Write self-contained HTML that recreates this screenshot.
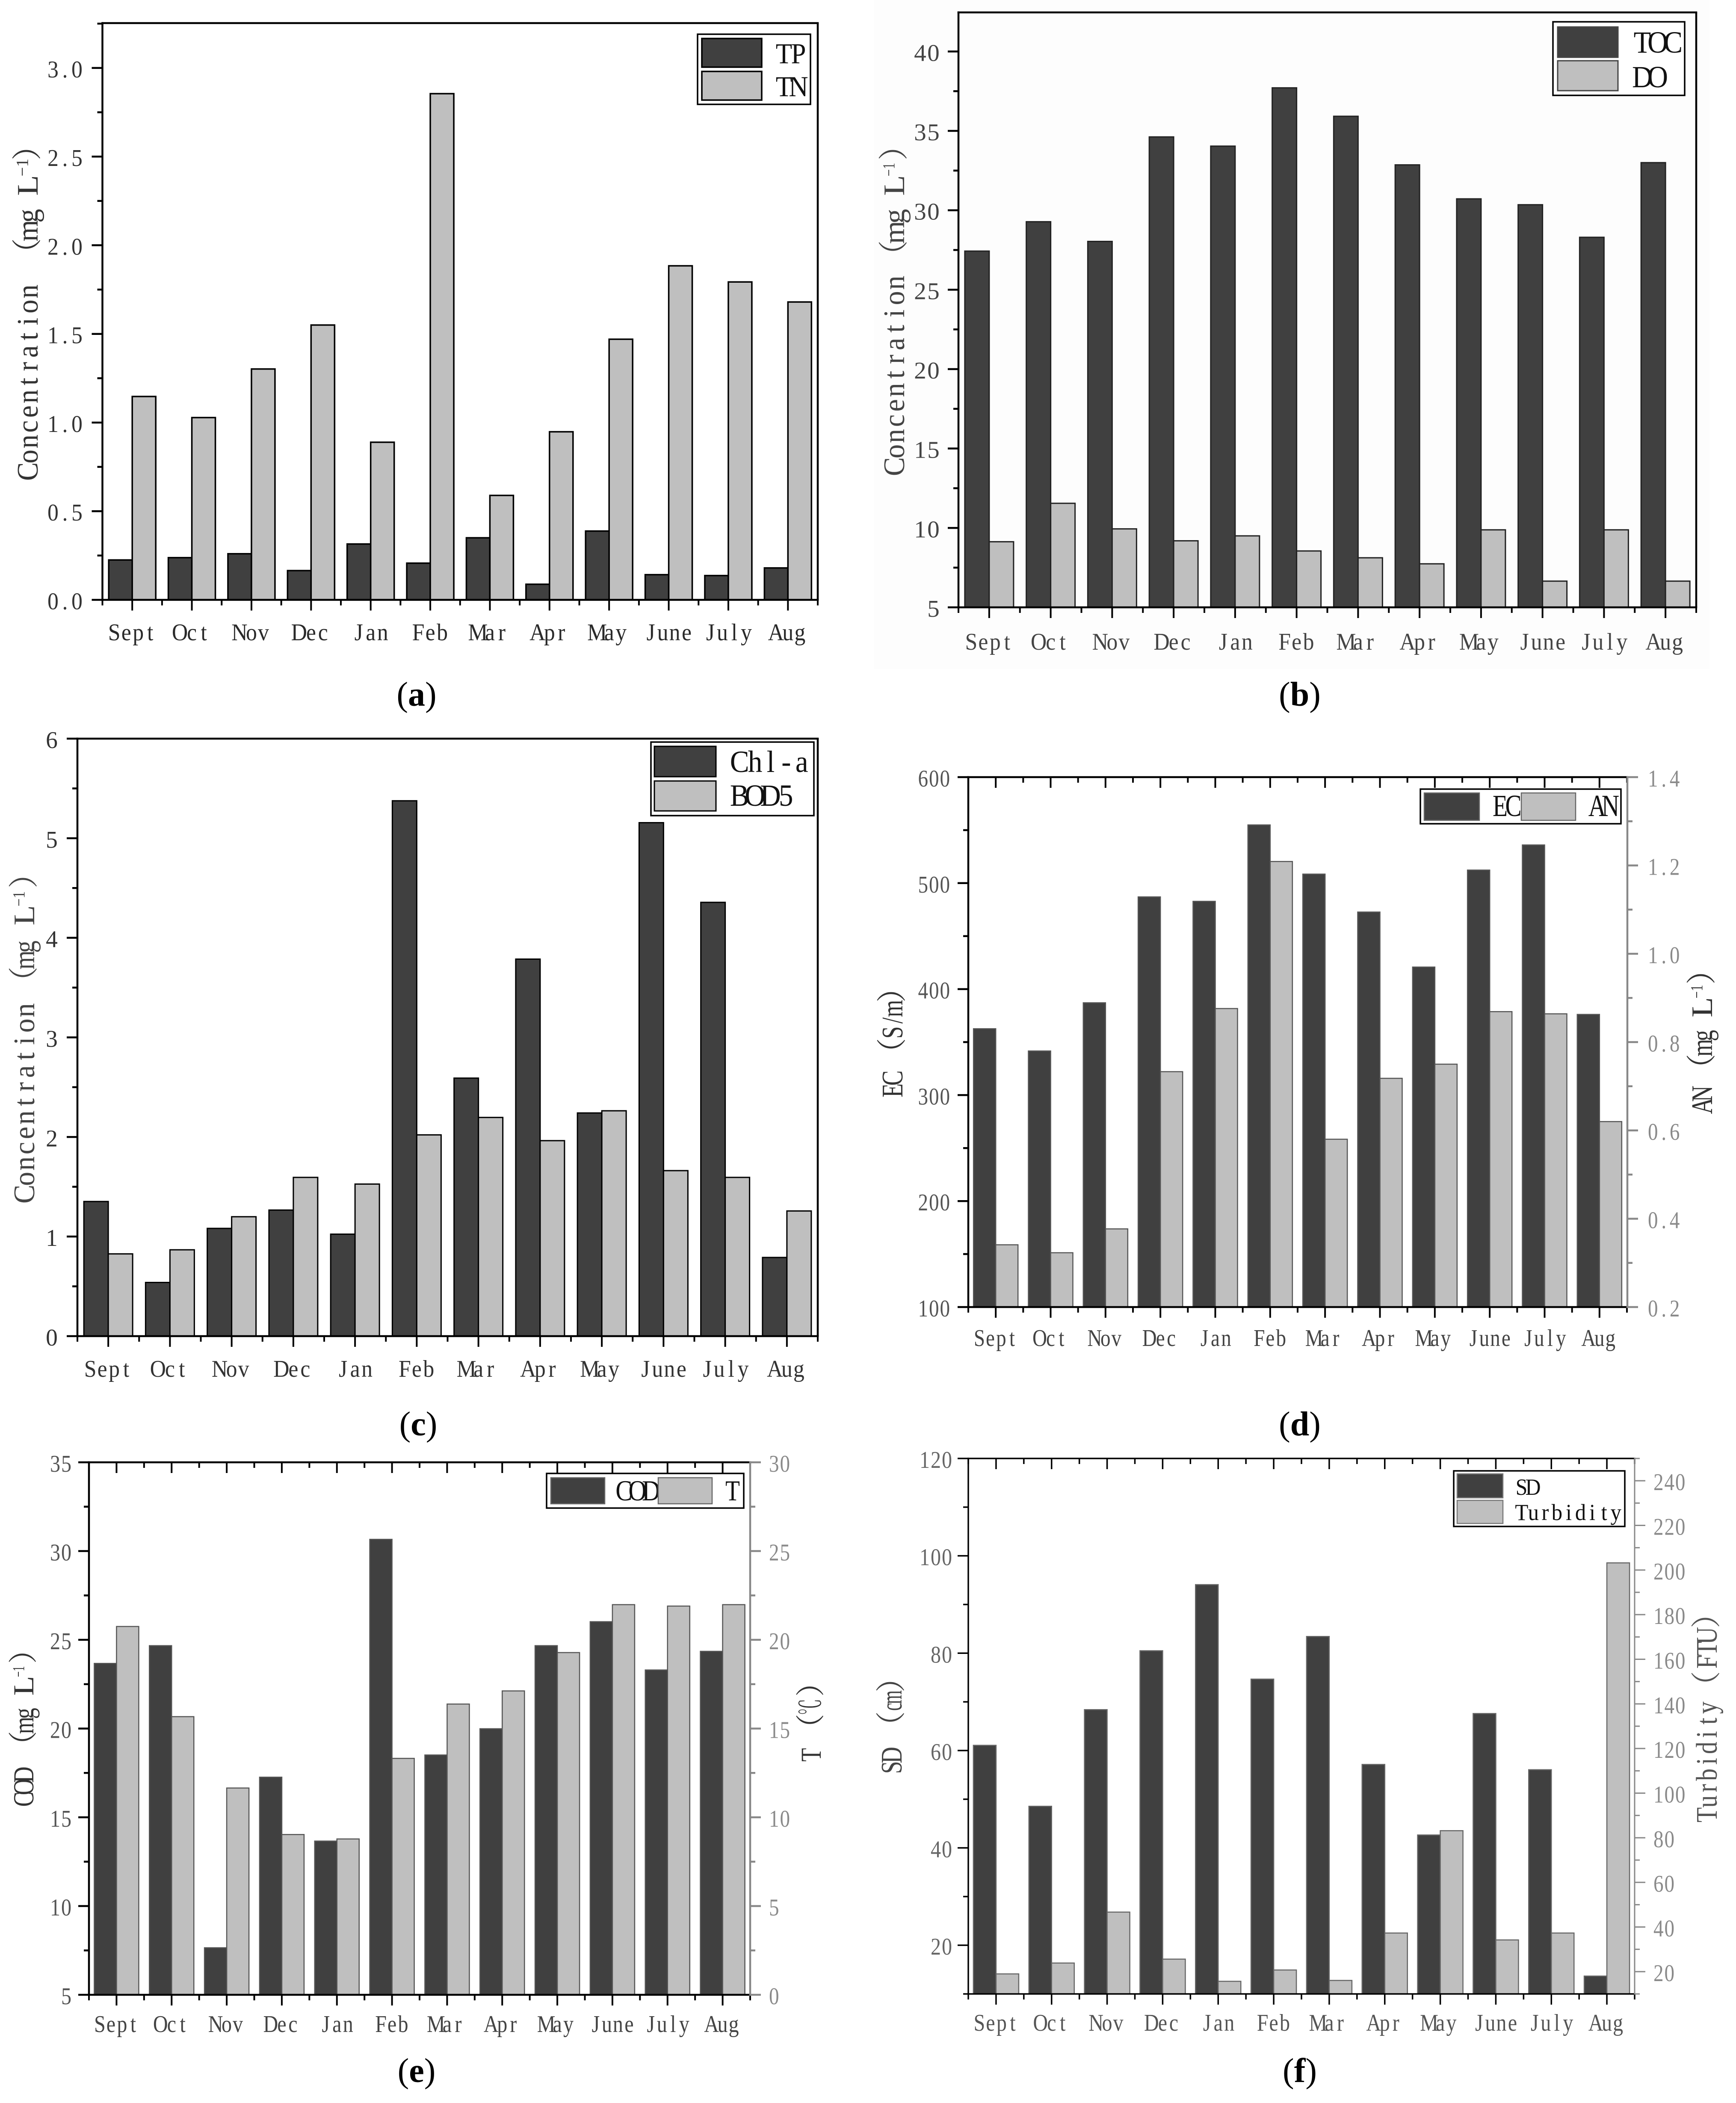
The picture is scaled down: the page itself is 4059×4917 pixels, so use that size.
<!DOCTYPE html>
<html lang="en">
<head>
<meta charset="utf-8">
<title>Monthly water quality parameters</title>
<style>
  html, body { margin: 0; padding: 0; background: #ffffff; }
  svg { display: block; font-family: "Liberation Serif", "Noto Serif CJK SC", serif; }
</style>
</head>
<body>
<svg id="figure" xmlns="http://www.w3.org/2000/svg" width="4059" height="4917" viewBox="0 0 4059 4917">
  <rect x="0" y="0" width="4059" height="4917" fill="#ffffff"></rect>
  <rect x="2043" y="0" width="1954" height="1564" fill="#fdfdfd"></rect>
</svg>
<script>
// ---- categories ----
const months = ['Sept','Oct','Nov','Dec','Jan','Feb','Mar','Apr','May','June','July','Aug'];

// ---- series values ----
const tpValues = [0.225,0.238,0.26,0.165,0.315,0.207,0.35,0.088,0.388,0.142,0.137,0.18];
const tnValues = [1.147,1.028,1.302,1.55,0.889,2.855,0.589,0.948,1.47,1.884,1.793,1.68];
const tocValues = [27.43,29.28,28.04,34.62,34.04,37.71,35.92,32.86,30.72,30.35,28.3,33.0];
const doValues = [9.13,11.55,9.94,9.19,9.5,8.55,8.12,7.74,9.88,6.65,9.88,6.65];
const chlaValues = [1.352,0.539,1.082,1.266,1.024,5.376,2.591,3.786,2.241,5.156,4.356,0.79];
const bod5Values = [0.826,0.867,1.199,1.594,1.527,2.021,2.196,1.963,2.263,1.662,1.594,1.257];
const ecValues = [362.6,341.6,387.1,487,482.8,554.9,508.5,472.7,420.8,512.3,536,376.1];
const anValues = [0.341,0.323,0.377,0.733,0.876,1.209,0.58,0.718,0.75,0.869,0.864,0.62];
const codValues = [23.67,24.67,7.65,17.26,13.66,30.66,18.51,19.99,24.67,26.02,23.3,24.35];
const tempValues = [20.75,15.67,11.65,9.03,8.78,13.32,16.38,17.12,19.28,21.98,21.9,21.98];
const sdValues = [61.07,48.55,68.4,80.5,94.08,74.67,83.43,57.14,42.65,67.6,56.06,13.67];
const turbidityValues = [18.98,23.85,46.68,25.6,15.66,20.73,16.05,37.3,83.17,34.2,37.3,203.2];

// ---- tick labels ----
const aTicks = ['0.0','0.5','1.0','1.5','2.0','2.5','3.0'];
const bTicks = ['5','10','15','20','25','30','35','40'];
const cTicks = ['0','1','2','3','4','5','6'];
const dLeftTicks = ['100','200','300','400','500','600'];
const dRightTicks = ['0.2','0.4','0.6','0.8','1.0','1.2','1.4'];
const eLeftTicks = ['5','10','15','20','25','30','35'];
const eRightTicks = ['0','5','10','15','20','25','30'];
const fLeftTicks = ['20','40','60','80','100','120'];
const fRightTicks = ['20','40','60','80','100','120','140','160','180','200','220','240'];

// ---- axis ranges ----
const aRange = [0, 3.253];
const bRange = [5, 42.46];
const cRange = [0, 6];
const dLeftRange = [100, 600];
const dRightRange = [0.2, 1.4];
const eLeftRange = [5, 35];
const eRightRange = [0, 30];
const fLeftRange = [10, 120];
const fRightRange = [10, 250];

// ---- styling ----
const DARK = '#404040';
const LIGHT = '#bfbfbf';
const svg = document.getElementById('figure');
const NS = 'http://www.w3.org/2000/svg';

function addGroup(parent, name) {
  const el = document.createElementNS(NS, 'g');
  
  
  parent.appendChild(el);
  return el;
}
function addLine(parent, name, x1, y1, x2, y2, color, width) {
  const el = document.createElementNS(NS, 'line');
  
  
  el.setAttribute('x1', x1); el.setAttribute('y1', y1);
  el.setAttribute('x2', x2); el.setAttribute('y2', y2);
  el.setAttribute('stroke', color); el.setAttribute('stroke-width', width);
  parent.appendChild(el);
  return el;
}
function addRect(parent, name, x, y, w, h, fill, stroke, sw) {
  const el = document.createElementNS(NS, 'rect');
  
  
  el.setAttribute('x', x); el.setAttribute('y', y);
  el.setAttribute('width', w); el.setAttribute('height', h);
  el.setAttribute('fill', fill); el.setAttribute('stroke', stroke); el.setAttribute('stroke-width', sw);
  parent.appendChild(el);
  return el;
}
// Text is drawn as a fixed-pitch run: when len is given, every character sits
// centred in a cell of len/n and glyphs are condensed to suit the cell.
function addText(parent, name, str, x, y, fs, fill, anchor, len, rotate) {
  const el = document.createElementNS(NS, 'text');
  
  
  el.setAttribute('font-size', fs);
  el.setAttribute('fill', fill);
  const place = rotate ? 'translate(' + x + ' ' + y + ') rotate(-90)' : 'translate(' + x + ' ' + y + ')';
  if (len) {
    const chars = Array.from(str);
    const cw = len / chars.length;
    const sx = /[\u2100-\u214f]/.test(str) ? cw / fs : 1.85 * cw / fs;
    const origin = anchor === 'end' ? -len : anchor === 'middle' ? -len / 2 : 0;
    const xs = chars.map((c, i) => ((origin + (i + 0.5) * cw) / sx).toFixed(2));
    el.setAttribute('text-anchor', 'middle');
    el.setAttribute('x', xs.join(' '));
    el.setAttribute('y', 0);
    el.setAttribute('transform', place + ' scale(' + sx.toFixed(3) + ' 1)');
  } else {
    el.setAttribute('text-anchor', anchor);
    el.setAttribute('x', 0);
    el.setAttribute('y', 0);
    el.setAttribute('transform', place);
  }
  el.textContent = str;
  parent.appendChild(el);
  return el;
}
function linear(range, bottomPx, topPx) {
  return v => bottomPx + (v - range[0]) / (range[1] - range[0]) * (topPx - bottomPx);
}
function drawYAxis(g, name, p, side) {
  const scale = linear(side.range, p.b, p.t);
  const vals = side.ticks.map(Number);
  const step = (vals[1] - vals[0]) / 2;
  const dir = side.dir;
  const ax = side.axisX;
  addLine(g, name + '-line', ax, p.t - side.width / 2, ax, p.b + side.width / 2, side.color, side.width);
  const startIdx = Math.ceil((side.range[0] - vals[0]) / step - 1e-6);
  const endIdx = Math.floor((side.range[1] - vals[0]) / step + 1e-6);
  for (let k = startIdx; k <= endIdx; k++) {
    const v = vals[0] + k * step;
    const y = scale(v);
    const major = k % 2 === 0;
    const len = major ? side.majorLen : side.majorLen * 0.48;
    addLine(g, name + (major ? '-major-tick' : '-minor-tick'), ax, y, ax + dir * len, y, side.color, side.tickWidth);
  }
  side.ticks.forEach((label, i) => {
    const y = scale(vals[i]);
    addText(g, name + '-tick-label', label, side.labelX, y + side.labelDy, side.fs, side.labelColor,
      dir < 0 ? 'end' : 'start', label.length * side.cw, false);
  });
}
function drawTitle(g, name, t) {
  t.parts.forEach(part => {
    const str = part[0], start = part[1], end = part[2], sup = part[3];
    const fs = sup ? t.fs * 0.58 : t.fs;
    const x = sup ? t.x - t.fs * 0.32 : t.x;
    addText(g, name + '-part', str, x, start, fs, t.fill, 'start', end ? start - end : 0, true);
  });
}
function drawPanel(p) {
  const g = addGroup(svg, 'panel-' + p.id);
  const catW = (p.r - p.l) / months.length;
  const cx = i => p.l + catW * (i + 0.5);
  const scales = p.series.map(s => linear(s.range, p.b, p.t));

  // bars
  p.series.forEach((s, si) => {
    const sg = addGroup(g, s.name + '-series');
    s.values.forEach((v, i) => {
      const y = scales[si](v);
      const x = si === 0 ? cx(i) - p.barW : cx(i);
      addRect(sg, 'bar-' + s.name + '-' + months[i].toLowerCase(), x, y, p.barW, p.b - y, s.fill, p.barStroke, p.barStrokeW);
    });
  });

  // frame
  addLine(g, 'top-axis-line', p.l - p.axisW / 2, p.t, p.r + p.axisW / 2, p.t, '#000', p.axisW);
  addLine(g, 'x-axis-line', p.l - p.axisW / 2, p.b, p.r + p.axisW / 2, p.b, '#000', p.axisW);
  if (!p.right) addLine(g, 'right-frame-line', p.r, p.t, p.r, p.b, '#000', p.axisW);

  // x ticks and labels
  for (let k = 0; k <= months.length; k++) {
    const x = p.l + catW * k;
    addLine(g, 'x-minor-tick', x, p.b, x, p.b + 13, '#000', p.tickW);
    if (p.topTicks) addLine(g, 'top-minor-tick', x, p.t, x, p.t + 13, '#000', p.tickW);
  }
  months.forEach((m, i) => {
    addLine(g, 'x-major-tick', cx(i), p.b, cx(i), p.b + 25, '#000', p.tickW);
    if (p.topTicks) addLine(g, 'top-major-tick', cx(i), p.t, cx(i), p.t + 25, '#000', p.tickW);
    addText(g, 'x-tick-label-' + m.toLowerCase(), m, cx(i), p.xLabelY, p.xFs, p.xColor, 'middle', m.length * p.xCw, false);
  });

  // y axes
  drawYAxis(g, 'left-y-axis', p, p.left);
  if (p.right) drawYAxis(g, 'right-y-axis', p, p.right);
  drawTitle(g, 'left-y-axis-title', p.leftTitle);
  if (p.rightTitle) drawTitle(g, 'right-y-axis-title', p.rightTitle);

  // legend
  const lg = addGroup(g, 'legend');
  addRect(lg, 'legend-box', p.legend.x, p.legend.y, p.legend.w, p.legend.h, '#fff', '#000', 3.5);
  p.legend.entries.forEach((e, i) => {
    addText(lg, 'legend-label-' + p.series[i].name, p.series[i].label, e.tx, e.ty, p.legend.fs, '#111', 'start', e.tlen, false);
  });
  p.legend.entries.forEach((e, i) => {
    addRect(lg, 'legend-swatch-' + p.series[i].name, e.x, e.y, e.w, e.h, p.series[i].fill, p.legend.swatchStroke, p.legend.swatchW);
  });

  // caption
  const cap = addText(g, 'panel-caption', '(', p.caption[0], p.caption[1], 80, '#000', 'middle', 0, false);
  const letter = document.createElementNS(NS, 'tspan');
  
  
  letter.setAttribute('font-weight', 'bold');
  letter.textContent = p.id;
  cap.appendChild(letter);
  cap.appendChild(document.createTextNode(')'));
}

const leftSide = (ticks, range, axisX, labelX, fs, cw, color, width) => ({
  ticks, range, axisX, labelX, fs, cw, dir: -1, color: '#000', labelColor: color,
  width, tickWidth: width, majorLen: 25, labelDy: 22
});
const rightSide = (ticks, range, axisX, labelX, width) => ({
  ticks, range, axisX, labelX, fs: 56, cw: 25.5, dir: 1, color: '#888', labelColor: '#8a8a8a',
  width, tickWidth: width, majorLen: 25, labelDy: 22
});

drawPanel({
  id: 'a', l: 239.5, r: 1912, t: 54, b: 1402.5, barW: 55, barStroke: '#000', barStrokeW: 3.5,
  axisW: 4.5, tickW: 4, xLabelY: 1497, xFs: 56, xCw: 28, xColor: '#2a2a2a',
  series: [
    { name: 'tp', label: 'TP', values: tpValues, range: aRange, fill: DARK },
    { name: 'tn', label: 'TN', values: tnValues, range: aRange, fill: LIGHT }
  ],
  left: leftSide(aTicks, aRange, 239.5, 194, 56, 28, '#333', 4.5),
  leftTitle: { x: 88, fs: 70, fill: '#333', parts: [['Concentration',1120,664],['（',627],['mg',557,487],['L',455,412],['−1',412,370,true],['）',375]] },
  legend: { x: 1631, y: 80, w: 264, h: 164, fs: 68, swatchStroke: '#000', swatchW: 3.5, entries: [
    { x: 1641, y: 90, w: 140, h: 67, tx: 1816, ty: 148, tlen: 68 },
    { x: 1641, y: 167, w: 140, h: 67, tx: 1816, ty: 225, tlen: 68 }
  ] },
  caption: [974, 1650]
});

drawPanel({
  id: 'b', l: 2241, r: 3966, t: 29, b: 1420, barW: 57, barStroke: '#222', barStrokeW: 3,
  axisW: 4.5, tickW: 4, xLabelY: 1519, xFs: 56, xCw: 28, xColor: '#444',
  series: [
    { name: 'toc', label: 'TOC', values: tocValues, range: bRange, fill: DARK },
    { name: 'do', label: 'DO', values: doValues, range: bRange, fill: LIGHT }
  ],
  left: leftSide(bTicks, bRange, 2241, 2198, 56, 31, '#444', 4.5),
  leftTitle: { x: 2114, fs: 70, fill: '#444', parts: [['Concentration',1109,643],['（',632],['mg',562,487],['L',455,412],['−1',412,380,true],['）',375]] },
  legend: { x: 3631, y: 51, w: 308, h: 172, fs: 72, swatchStroke: '#444', swatchW: 3, entries: [
    { x: 3642, y: 63, w: 141, h: 71, tx: 3822, ty: 123, tlen: 108 },
    { x: 3642, y: 142, w: 141, h: 70, tx: 3822, ty: 204, tlen: 72 }
  ] },
  caption: [3039, 1650]
});

drawPanel({
  id: 'c', l: 181, r: 1912, t: 1727, b: 3124, barW: 57, barStroke: '#000', barStrokeW: 3,
  axisW: 4.5, tickW: 4, xLabelY: 3219, xFs: 56, xCw: 28, xColor: '#333',
  series: [
    { name: 'chl-a', label: 'Chl-a', values: chlaValues, range: cRange, fill: DARK },
    { name: 'bod5', label: 'BOD5', values: bod5Values, range: cRange, fill: LIGHT }
  ],
  left: leftSide(cTicks, cRange, 181, 136, 56, 30, '#333', 4.5),
  leftTitle: { x: 80, fs: 70, fill: '#444', parts: [['Concentration',2810,2344],['（',2330],['mg',2260,2198],['L',2161,2119],['−1',2119,2083,true],['）',2077]] },
  legend: { x: 1522, y: 1735, w: 381, h: 172, fs: 72, swatchStroke: '#000', swatchW: 3, entries: [
    { x: 1530, y: 1745, w: 144, h: 71, tx: 1711, ty: 1805, tlen: 182 },
    { x: 1530, y: 1826, w: 144, h: 70, tx: 1711, ty: 1884, tlen: 145 }
  ] },
  caption: [978, 3356]
});

drawPanel({
  id: 'd', l: 2264, r: 3804, t: 1817, b: 3056, barW: 52, barStroke: '#555', barStrokeW: 2.5,
  axisW: 4.5, tickW: 4, xLabelY: 3147, xFs: 56, xCw: 25.5, xColor: '#444', topTicks: true,
  series: [
    { name: 'ec', label: 'EC', values: ecValues, range: dLeftRange, fill: DARK },
    { name: 'an', label: 'AN', values: anValues, range: dRightRange, fill: LIGHT }
  ],
  left: leftSide(dLeftTicks, dLeftRange, 2264, 2222, 56, 25.5, '#555', 4.5),
  right: rightSide(dRightTicks, dRightRange, 3805, 3852, 4.5),
  leftTitle: { x: 2110, fs: 70, fill: '#333', parts: [['EC',2564,2506],['（',2497],['S/m',2428,2344],['）',2344]] },
  rightTitle: { x: 4003, fs: 70, fill: '#333', parts: [['AN',2600,2543],['（',2534],['mg',2464,2407],['L',2376,2334],['−1',2334,2302,true],['）',2302]] },
  legend: { x: 3321, y: 1845, w: 469, h: 81, fs: 72, swatchStroke: '#666', swatchW: 2.5, entries: [
    { x: 3330, y: 1854, w: 129, h: 64, tx: 3492, ty: 1908, tlen: 62 },
    { x: 3557, y: 1854, w: 127, h: 64, tx: 3719, ty: 1908, tlen: 62 }
  ] },
  caption: [3039, 3356]
});

drawPanel({
  id: 'e', l: 208, r: 1754, t: 3419, b: 4664, barW: 52, barStroke: '#555', barStrokeW: 2.5,
  axisW: 4.5, tickW: 4, xLabelY: 4751, xFs: 56, xCw: 26, xColor: '#444', topTicks: true,
  series: [
    { name: 'cod', label: 'COD', values: codValues, range: eLeftRange, fill: DARK },
    { name: 't', label: 'T', values: tempValues, range: eRightRange, fill: LIGHT }
  ],
  left: leftSide(eLeftTicks, eLeftRange, 208, 168, 56, 26, '#555', 4.5),
  right: rightSide(eRightTicks, eRightRange, 1754, 1797, 4.5),
  leftTitle: { x: 78, fs: 68, fill: '#333', parts: [['COD',4221,4135],['（',4115],['mg',4048,3992],['L',3962,3921],['−1',3921,3895,true],['）',3890]] },
  rightTitle: { x: 1919, fs: 68, fill: '#333', parts: [['T',4117,4089],['（',4075],['℃',4010,3972],['）',3967]] },
  legend: { x: 1278, y: 3445, w: 461, h: 81, fs: 68, swatchStroke: '#666', swatchW: 2.5, entries: [
    { x: 1288, y: 3455, w: 126, h: 61, tx: 1443, ty: 3508, tlen: 95 },
    { x: 1539, y: 3455, w: 126, h: 61, tx: 1698, ty: 3508, tlen: 30 }
  ] },
  caption: [974, 4868]
});

drawPanel({
  id: 'f', l: 2264, r: 3822, t: 3410, b: 4662, barW: 53, barStroke: '#666', barStrokeW: 2.5,
  axisW: 3.5, tickW: 3.5, xLabelY: 4748, xFs: 56, xCw: 26, xColor: '#555', topTicks: true,
  series: [
    { name: 'sd', label: 'SD', values: sdValues, range: fLeftRange, fill: DARK },
    { name: 'turbidity', label: 'Turbidity', values: turbidityValues, range: fRightRange, fill: LIGHT }
  ],
  left: leftSide(fLeftTicks, fLeftRange, 2264, 2227, 56, 26, '#666', 3.5),
  right: rightSide(fRightTicks, fRightRange, 3822, 3865, 3),
  leftTitle: { x: 2108, fs: 70, fill: '#444', parts: [['SD',4147,4089],['（',4071],['cm',4002,3957],['）',3957]] },
  rightTitle: { x: 4014, fs: 70, fill: '#555', parts: [['Turbidity',4259,3977],['（',3977],['FTU',3901,3809],['）',3807]] },
  legend: { x: 3399, y: 3439, w: 400, h: 130, fs: 54, swatchStroke: '#777', swatchW: 2.5, entries: [
    { x: 3407, y: 3446, w: 107, h: 56, tx: 3544, ty: 3495, tlen: 54 },
    { x: 3407, y: 3508, w: 107, h: 54, tx: 3544, ty: 3554, tlen: 248 }
  ] },
  caption: [3039, 4868]
});
</script>
</body>
</html>
